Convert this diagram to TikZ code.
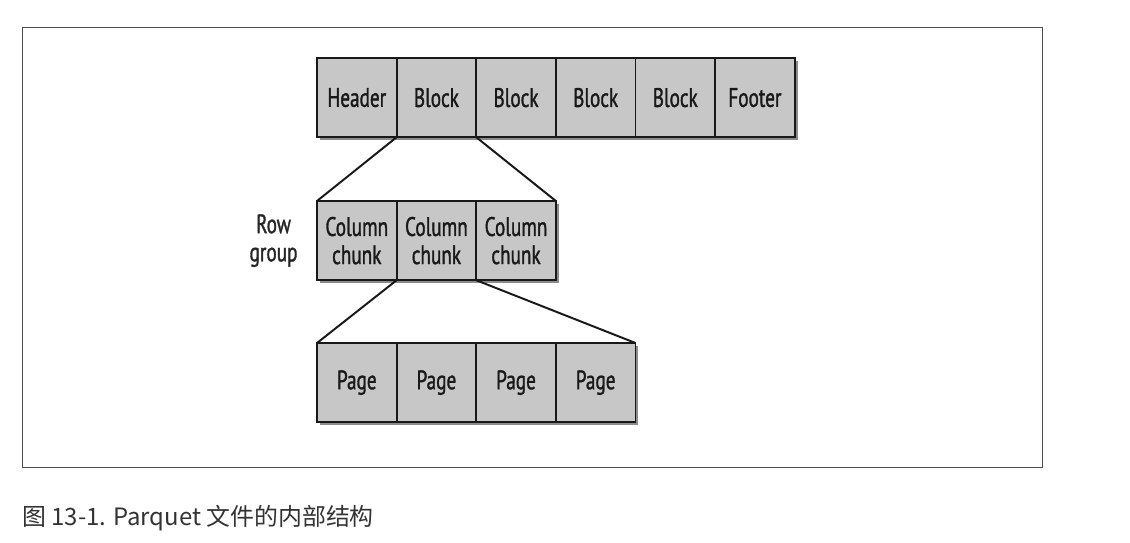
\documentclass[tikz,border=0pt]{standalone}
\usepackage{fontspec}
\newfontfamily\cellfont[FakeStretch=0.72, FakeBold=1.2]{PT Sans}
\newfontfamily\cjk{Noto Sans CJK SC}
\usetikzlibrary{positioning,shadows}

\tikzset{
  cell/.style={draw=black!90, line width=1.4pt, fill=black!22,
    minimum width=1.99cm, minimum height=1.98cm, inner sep=0pt, outer sep=0pt,
    align=center, text=black!90, font=\cellfont\fontsize{19}{20}\selectfont,
    drop shadow={shadow xshift=0.07cm, shadow yshift=-0.07cm, opacity=0.45, fill=black}},
  link/.style={line width=1.4pt, draw=black!90},
}

\begin{document}
\begin{tikzpicture}[x=0.025cm, y=-0.025cm]

    % page size and frame
    \useasboundingbox (0,0) rectangle (1130,542);
    \draw[black!70, line width=0.6pt] (22,27) rectangle (1042,467);

    % file: header, blocks, footer
    \node[cell, anchor=north west] (hd) at (317,58) {Header};
    \node[cell, right=0pt of hd] (b1) {Block};
    \node[cell, right=0pt of b1] (b2) {Block};
    \node[cell, right=0pt of b2] (b3) {Block};
    \node[cell, right=0pt of b3] (b4) {Block};
    \node[cell, right=0pt of b4] (ft) {Footer};

    % row group
    \node[cell, anchor=north west] (c1) at (317,201) {Column\\chunk};
    \node[cell, right=0pt of c1] (c2) {Column\\chunk};
    \node[cell, right=0pt of c2] (c3) {Column\\chunk};
    \node[left=0.48cm of c1, align=center, inner sep=0pt, text=black!85,
          font=\cellfont\fontsize{19}{20}\selectfont] (rg) {Row\\group};

    % pages
    \node[cell, anchor=north west] (p1) at (317,343) {Page};
    \node[cell, right=0pt of p1] (p2) {Page};
    \node[cell, right=0pt of p2] (p3) {Page};
    \node[cell, right=0pt of p3] (p4) {Page};

    % zoom lines
    \draw[link] (b1.south west) -- (c1.north west);
    \draw[link] (b1.south east) -- (c3.north east);
    \draw[link] (c1.south east) -- (p1.north west);
    \draw[link] (c2.south east) -- (p4.north east);

    % caption
    \node[anchor=west, inner sep=0pt, text=black!80, font=\cjk\fontsize{17}{18}\selectfont]
      (cap) at (22,518) {图 13-1. Parquet 文件的内部结构};

\end{tikzpicture}
\end{document}
